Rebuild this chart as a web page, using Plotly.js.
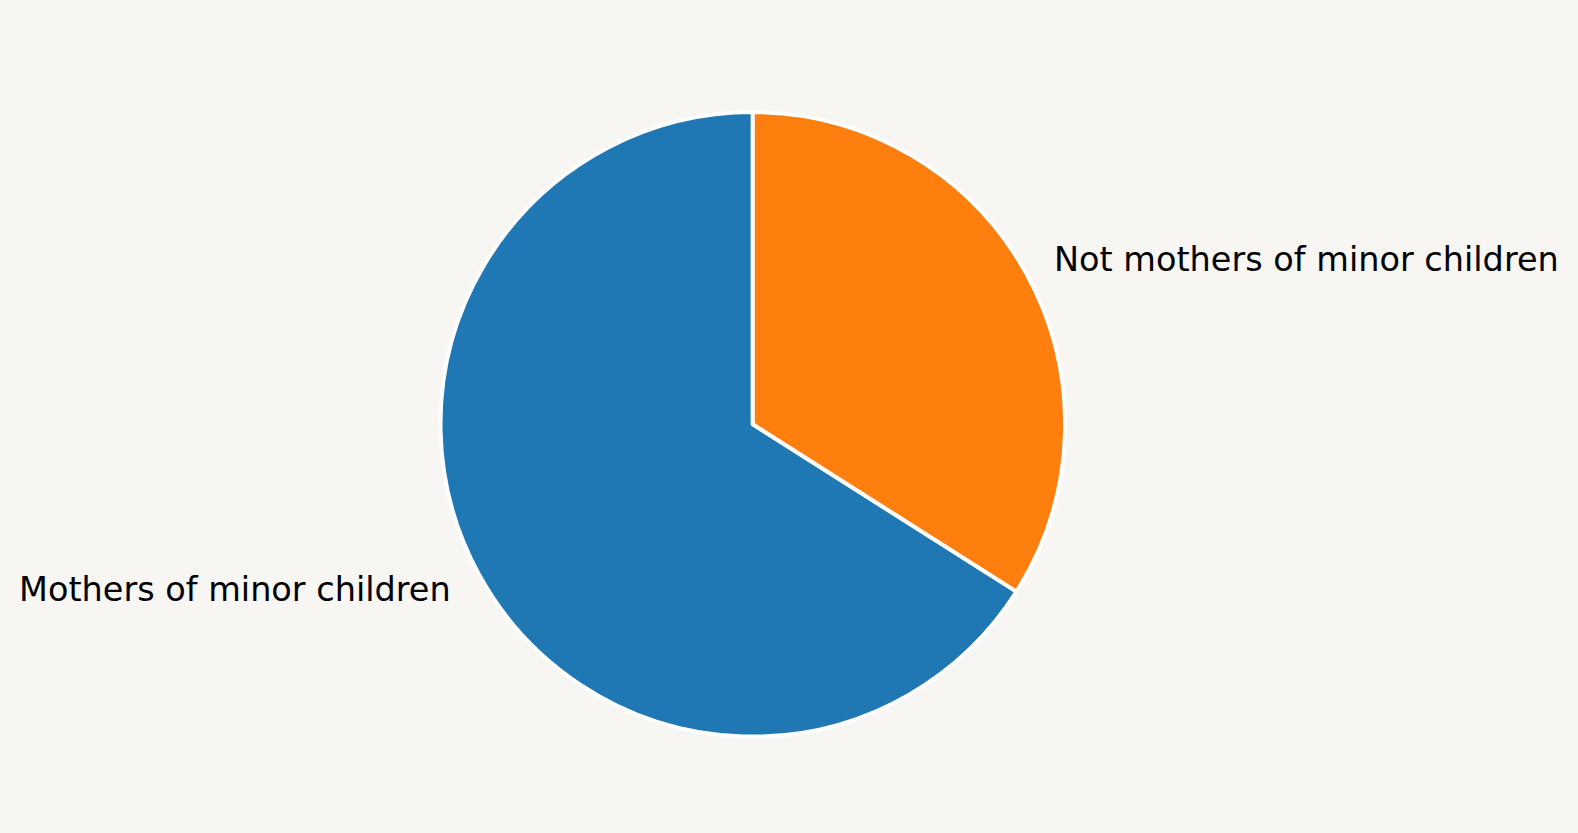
<!DOCTYPE html>
<html>
<head>
<meta charset="utf-8">
<script src="https://cdn.plot.ly/plotly-3.0.1.min.js"></script>
<style>
  html, body { margin: 0; padding: 0; background: #f7f6f2; }
  #chart { width: 1578px; height: 833px; }
</style>
</head>
<body>
<div id="chart"></div>
<script>
const categories = ["Mothers of minor children", "Not mothers of minor children"];
const values = [66, 34];
const colors = ["#1f77b4", "#ff7f0e"];

const W = 1578, H = 833;
const cx = 752.8, cy = 424.3, R = 312.3;
const bg = "#f7f6f2";

// label positions at 1.1 * radius, at each slice's mid-angle (counterclockwise from 12 o'clock)
const total = values.reduce((a, b) => a + b, 0);
const annotations = [];
let start = 90;
values.forEach((v, i) => {
  const span = v / total * 360;
  const mid = (start + span / 2) * Math.PI / 180;
  start += span;
  const px = cx + 1.1 * (R - 1.5) * Math.cos(mid);
  const py = cy - 1.1 * (R - 1.5) * Math.sin(mid);
  annotations.push({
    text: categories[i],
    xref: "paper", yref: "paper",
    x: px / W, y: 1 - py / H,
    xanchor: Math.cos(mid) >= 0 ? "left" : "right",
    yanchor: "middle",
    showarrow: false,
    font: { family: "DejaVu Sans", size: 33.5, color: "#000000" }
  });
});

// first slice runs counterclockwise from 12 o'clock: drawn clockwise so that it ends at 12
const firstSpan = values[0] / total * 360;
const rot = 360 - firstSpan;

const data = [{
  type: "pie",
  labels: categories,
  values: values,
  sort: false,
  direction: "clockwise",
  rotation: rot,
  textinfo: "none",
  hoverinfo: "none",
  marker: { colors: colors, line: { color: "#ffffff", width: 4 } },
  domain: {
    x: [(cx - R) / W, (cx + R) / W],
    y: [1 - (cy + R) / H, 1 - (cy - R) / H]
  },
  showlegend: false
}];

const layout = {
  width: W, height: H,
  margin: { l: 0, r: 0, t: 0, b: 0 },
  paper_bgcolor: bg,
  plot_bgcolor: bg,
  showlegend: false,
  annotations: annotations,
  font: { family: "DejaVu Sans" }
};

Plotly.newPlot("chart", data, layout, { displayModeBar: false, staticPlot: true });
</script>
</body>
</html>
